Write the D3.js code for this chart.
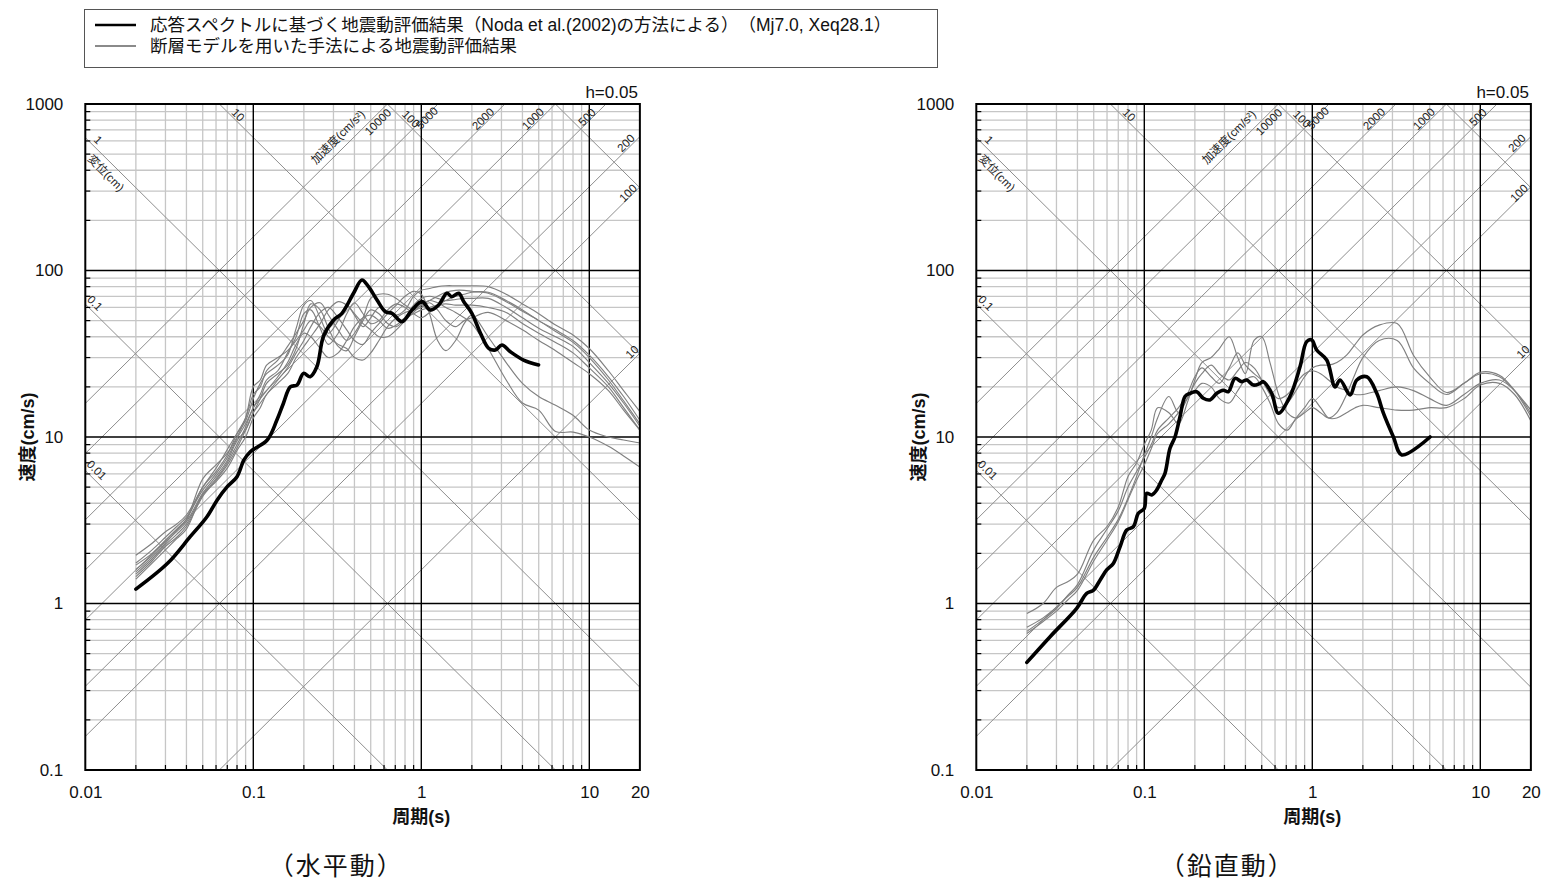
<!DOCTYPE html>
<html><head><meta charset="utf-8">
<script src="https://cdn.jsdelivr.net/npm/d3@7"></script>
<style>body{margin:0;background:#fff}svg{display:block}text{text-spacing-trim:space-all}</style>
</head><body>
<svg id="chart" width="1543" height="884"></svg>
<script>
// ---------------- data ----------------
const periodTicks = [0.01, 0.1, 1, 10, 20];
const periodTickLabels = ["0.01", "0.1", "1", "10", "20"];
const velTicks = [0.1, 1, 10, 100, 1000];
const velTickLabels = ["0.1", "1", "10", "100", "1000"];
const dispLines = [0.01, 0.1, 1, 10, 100, 1000];          // cm
const accLines = [10, 100, 200, 500, 1000, 2000, 5000, 10000]; // cm/s2
const gridLabelText = ["1", "変位(cm)", "10", "100", "0.1", "0.01", "加速度(cm/s²)", "10000", "5000", "2000", "1000", "500", "200", "100", "10"];
const gridLabelKind = ["d", "d", "d", "d", "d", "d", "a", "a", "a", "a", "a", "a", "a", "a", "a"];
const gridLabelT = [0.0119, 0.01328, 0.0811, 0.868, 0.01142, 0.01169, 0.319, 0.552, 1.081, 2.33, 4.62, 9.69, 16.5, 17.0, 17.96];
const gridLabelV = [608, 385, 859, 813, 63.8, 6.34, 634, 780, 824, 813, 813, 835, 583, 292, 32.4];

const legendTexts = ["応答スペクトルに基づく地震動評価結果（Noda et al.(2002)の方法による）（Mj7.0, Xeq28.1）", "断層モデルを用いた手法による地震動評価結果"];
const panelCaptions = ["（水平動）", "（鉛直動）"];

// horizontal: Noda et al. (2002)
const hNodaT = [0.020,0.031,0.042,0.053,0.061,0.070,0.080,0.088,0.096,0.121,0.138,0.151,0.166,0.182,0.199,0.218,0.239,0.262,0.301,0.337,0.395,0.443,0.485,0.545,0.611,0.670,0.767,0.881,1.01,1.13,1.27,1.42,1.52,1.67,1.79,2.00,2.25,2.52,2.76,3.02,3.39,4.06,4.99];
const hNodaV = [1.22,1.75,2.51,3.32,4.19,5.03,5.78,7.28,8.16,9.59,12.6,15.9,20.0,20.5,24.1,23.0,26.4,40.4,50.4,55.3,73.0,87.7,80.0,66.5,56.6,55.3,49.3,57.9,65.0,57.9,62.1,73.0,69.6,73.0,65.0,55.3,42.0,34.1,33.3,35.7,32.5,29.0,27.1];

// fault model periods
const faultT = [0.02,0.025,0.03,0.035,0.04,0.05,0.06,0.07,0.08,0.09,0.1,0.11,0.12,0.14,0.16,0.18,0.2,0.22,0.25,0.28,0.32,0.36,0.4,0.45,0.5,0.56,0.63,0.71,0.8,0.9,1.0,1.12,1.25,1.4,1.6,1.8,2.0,2.5,3.2,4,5,6.3,8,10,13,16,20];
const hFault1 = [1.95,2.3,2.7,3.0,3.4, 5.0,6.5,8.4,10.5,12.5, 17,21,24,27,31, 45,62,66,52,42, 50,62,54,46,52, 60,57,54,58,70, 76,78,80,81,81, 81,81, 80,72,63,55,47, 41,34,25,19,14.2];
const hFault2 = [1.75,2.1,2.5,2.9,3.3, 4.8,6.0,7.5,9.8,12, 15,18,22,25,32, 40,55,58,45,36, 42,55,64,55,48, 50,58,63,60,55, 52,56,62,66,70, 72,74, 74,66,58,50,44, 38,31,23,17.5,12.6];
const hFault3 = [1.6,1.95,2.35,2.7,3.1, 4.6,5.8,7.2,9.5,11, 14,17,21,24,27, 34,48,63,58,45, 35,33,40,50,58, 55,48,46,52,62, 68,70,68,66,67, 68,68, 68,60,52,45,40, 35,28,21,16,11.6];
const hFault4 = [1.5,1.85,2.25,2.6,3.0, 4.5,5.6,7.0,9.0,11.5, 15,17,19,23,28, 36,42,40,34,30, 32,38,46,52,54, 50,45,47,52,55, 58,60,62,63,62, 62,62, 60,56,48,42,37, 32,26,20,15,11.0];
const hFault5 = [1.45,1.8,2.2,2.5,2.9, 4.4,5.5,6.8,8.6,11, 14,16,18,22,26, 32,38,46,56,60, 52,44,38,36,42, 48,55,62,70,75, 72,55,38,33,38, 48,54, 40,28,21,17.5,15.5, 13.5,11,10,9.6,9.2];
const hFault6 = [1.4,1.75,2.1,2.45,2.8, 4.5,5.4,6.5,8.3,10, 13,15,18,21,24, 30,35,40,48,58, 65,62,55,48,44, 40,40,44,50,56, 62,66,64,60,56, 52,48, 34,22,16,14.5,10.8, 10.7,10,8.8,7.7,6.6];
const hFault7 = [1.55,1.9,2.3,2.75,3.2, 5.6,6.8,8.0,10,13, 20,22,27,30,33, 38,44,50,46,40, 36,34,30,29,32, 38,46,52,56,58, 62,66,70,74,76, 76,75, 73,65,57,50,43, 37,30,22,16.5,12.0];
const hFault8 = [1.7,2.0,2.4,2.8,3.2, 5.0,6.2,7.8,10.5,13, 18,20,25,29,35, 42,50,60,64,54, 44,38,42,52,68, 72,72,68,62,58, 60,64,58,50,46, 50,52, 56,50,44,38,33, 28,24,19,14.5,11];

// vertical: Noda et al. (2002)
const vNodaT = [0.020,0.0275,0.0396,0.0454,0.0497,0.0545,0.0597,0.0654,0.0717,0.0786,0.086,0.0921,0.100,0.1033,0.1107,0.1186,0.127,0.1328,0.1422,0.1523,0.163,0.1747,0.187,0.205,0.2245,0.246,0.270,0.295,0.316,0.347,0.380,0.407,0.446,0.489,0.511,0.573,0.628,0.736,0.845,0.926,0.991,1.062,1.219,1.366,1.463,1.68,1.84,2.11,2.42,2.65,3.04,3.41,5.02];
const vNodaV = [0.443,0.632,0.936,1.15,1.20,1.38,1.59,1.74,2.19,2.76,2.89,3.48,3.73,4.59,4.49,4.81,5.52,6.05,8.55,10.0,13.2,17.5,18.3,18.7,17.1,16.7,18.3,19.1,18.7,22.5,21.5,22.0,20.5,21.0,21.5,18.3,13.9,17.5,26.4,37.4,38.3,33.3,29.0,20.0,22.0,17.9,22.0,23.0,18.3,13.9,10.0,7.80,10.0];

const vFault1 = [0.87,1.0,1.25,1.35,1.5, 2.4,2.9,3.8,5.8,7.0, 9.0,11,15,14,12, 16,22,28,30,34, 40,30,24,38,40, 28,18,14,13,14, 15,14,13,14,18, 24,30, 38,38,26,21,18, 21,24,23,19,14.5];
const vFault2 = [0.72,0.82,0.95,1.1,1.25, 1.9,2.5,3.2,4.3,5.8, 7.8,10,13,17.5,14, 17,21,24,27,24, 22,25,28,26,22, 18,15,16,19,23, 26,27,27,28,31, 36,41, 47,48,31,23,18.5, 21,24.5,23.5,19,13.3];
const vFault3 = [0.66,0.78,0.9,1.05,1.2, 1.8,2.4,3.1,4.2,5.5, 6.8,8.5,10.5,12,14, 17,19,21,20,17, 16,19,22,23,20, 16,12,11,13,15, 17,15,13,13,14, 15,15.5, 15,14.5,14.5,15,15, 17,20.5,21,18,12.5];
const vFault4 = [0.68,0.8,0.93,1.12,1.3, 2.1,2.8,3.6,5.0,6.2, 7.5,9,11,13,15, 18,23,26,23,21, 26,32,27,24,22, 19,17,18,21,24, 25,24,22,20,19, 18,18, 19,20,19,17,15.5, 18,21,22,19,13.8];

// ---------------- drawing ----------------
const svg = d3.select("#chart");
const FONT = "'Liberation Sans', Arial, 'Noto Sans CJK JP', sans-serif";
const JFONT = "'Liberation Sans', Arial, 'Noto Sans CJK JP', sans-serif";
const CJK = "'Noto Sans CJK JP', sans-serif";

// legend
const leg = svg.append("g");
leg.append("rect").attr("x", 84.5).attr("y", 9.5).attr("width", 853).attr("height", 58)
  .attr("fill", "#fff").attr("stroke", "#555").attr("stroke-width", 1);
leg.append("line").attr("x1", 95).attr("x2", 136).attr("y1", 25).attr("y2", 25).attr("stroke", "#000").attr("stroke-width", 2.5);
leg.append("line").attr("x1", 95).attr("x2", 136).attr("y1", 46).attr("y2", 46).attr("stroke", "#8a8a8a").attr("stroke-width", 2);
legendTexts.forEach((t, i) => {
  leg.append("text").attr("x", 150).attr("y", 25 + i * 21).attr("dy", "0.35em")
    .attr("font-family", JFONT).attr("font-size", 17.5).attr("fill", "#111").text(t);
});

function drawPanel(x0, idx, nodaT, nodaV, faults) {
  const x = d3.scaleLog().domain([0.01, 20]).range([x0, x0 + 168 * Math.log10(2000)]);
  const y = d3.scaleLog().domain([0.1, 1000]).range([770, 104]);
  const [X0, X1] = x.range();
  const [Y1, Y0] = y.range();
  const g = svg.append("g");
  const clipId = "clip" + idx;
  g.append("clipPath").attr("id", clipId).append("rect")
    .attr("x", X0).attr("y", Y0).attr("width", X1 - X0).attr("height", Y1 - Y0);

  const minorX = [], majorX = [0.1, 1, 10];
  [0.01, 0.1, 1, 10].forEach(d => { for (let k = 2; k <= 9; k++) { const v = d * k; if (v < 20) minorX.push(v); } });
  const minorY = [], majorY = [1, 10, 100];
  [0.1, 1, 10, 100].forEach(d => { for (let k = 2; k <= 9; k++) minorY.push(d * k); });

  // minor grid
  g.append("g").selectAll("line").data(minorX).join("line")
    .attr("x1", d => x(d)).attr("x2", d => x(d)).attr("y1", Y0).attr("y2", Y1)
    .attr("stroke", "#c6c6c6").attr("stroke-width", 1.3);
  g.append("g").selectAll("line").data(minorY).join("line")
    .attr("y1", d => y(d)).attr("y2", d => y(d)).attr("x1", X0).attr("x2", X1)
    .attr("stroke", "#c6c6c6").attr("stroke-width", 1.3);

  // tripartite diagonal lines
  const diag = g.append("g").attr("clip-path", `url(#${clipId})`);
  const line = d3.line().x(d => x(d[0])).y(d => y(d[1]));
  const ends = [0.005, 40];
  dispLines.forEach(D => {
    diag.append("path").attr("d", line(ends.map(T => [T, 2 * Math.PI * D / T])))
      .attr("fill", "none").attr("stroke", "#8e8e8e").attr("stroke-width", 1);
  });
  accLines.forEach(A => {
    diag.append("path").attr("d", line(ends.map(T => [T, A * T / (2 * Math.PI)])))
      .attr("fill", "none").attr("stroke", "#8e8e8e").attr("stroke-width", 1);
  });

  // major grid
  g.append("g").selectAll("line").data(majorX).join("line")
    .attr("x1", d => x(d)).attr("x2", d => x(d)).attr("y1", Y0).attr("y2", Y1)
    .attr("stroke", "#000").attr("stroke-width", 1.4);
  g.append("g").selectAll("line").data(majorY).join("line")
    .attr("y1", d => y(d)).attr("y2", d => y(d)).attr("x1", X0).attr("x2", X1)
    .attr("stroke", "#000").attr("stroke-width", 1.4);

  // inward minor ticks (left & bottom)
  g.append("g").selectAll("line").data(minorY).join("line")
    .attr("y1", d => y(d)).attr("y2", d => y(d)).attr("x1", X0).attr("x2", X0 + 5)
    .attr("stroke", "#000").attr("stroke-width", 1.2);
  g.append("g").selectAll("line").data(minorX).join("line")
    .attr("x1", d => x(d)).attr("x2", d => x(d)).attr("y1", Y1).attr("y2", Y1 - 5)
    .attr("stroke", "#000").attr("stroke-width", 1.2);

  // grid labels
  const gl = g.append("g");
  gridLabelText.forEach((t, i) => {
    const px = x(gridLabelT[i]), py = y(gridLabelV[i]);
    const rot = gridLabelKind[i] === "d" ? 45 : -45;
    gl.append("text").attr("transform", `translate(${px},${py}) rotate(${rot})`)
      .attr("text-anchor", "middle").attr("dy", "0.35em")
      .attr("font-family", JFONT).attr("font-size", 11.5).attr("fill", "#222").text(t);
  });

  // data curves
  const curve = d3.line().x(d => x(d[0])).y(d => y(d[1])).curve(d3.curveCatmullRom.alpha(0.5));
  const dg = g.append("g").attr("clip-path", `url(#${clipId})`);
  faults.forEach(vals => {
    dg.append("path").attr("d", curve(faultT.map((T, i) => [T, vals[i]])))
      .attr("fill", "none").attr("stroke", "#808080").attr("stroke-width", 1.15);
  });
  dg.append("path").attr("d", curve(nodaT.map((T, i) => [T, nodaV[i]])))
    .attr("fill", "none").attr("stroke", "#000").attr("stroke-width", 3.6)
    .attr("stroke-linejoin", "round").attr("stroke-linecap", "round");

  // frame
  g.append("rect").attr("x", X0).attr("y", Y0).attr("width", X1 - X0).attr("height", Y1 - Y0)
    .attr("fill", "none").attr("stroke", "#000").attr("stroke-width", 2);

  // axes labels
  const xAxis = d3.axisBottom(x).tickValues(periodTicks).tickFormat((d, i) => periodTickLabels[i]).tickSize(0).tickPadding(16);
  const ax = g.append("g").attr("transform", `translate(0,${Y1})`).call(xAxis);
  ax.select(".domain").remove();
  ax.selectAll("text").attr("font-family", FONT).attr("font-size", 17).attr("fill", "#111");
  const yAxis = d3.axisLeft(y).tickValues(velTicks).tickFormat((d, i) => velTickLabels[i]).tickSize(0).tickPadding(22);
  const ay = g.append("g").attr("transform", `translate(${X0},0)`).call(yAxis);
  ay.select(".domain").remove();
  ay.selectAll("text").attr("font-family", FONT).attr("font-size", 17).attr("fill", "#111");

  g.append("text").attr("x", X1 - 2).attr("y", Y0 - 6).attr("text-anchor", "end")
    .attr("font-family", FONT).attr("font-size", 17).attr("fill", "#111").text("h=0.05");
  g.append("text").attr("transform", `translate(${X0 - 58},${(Y0 + Y1) / 2}) rotate(-90)`)
    .attr("text-anchor", "middle").attr("dy", "0.35em").attr("font-weight", "bold")
    .attr("font-family", JFONT).attr("font-size", 18).attr("fill", "#111").text("速度(cm/s)");
  g.append("text").attr("x", x(1)).attr("y", 817).attr("text-anchor", "middle").attr("dy", "0.35em")
    .attr("font-weight", "bold").attr("font-family", JFONT).attr("font-size", 18).attr("fill", "#111").text("周期(s)");
  g.append("text").attr("x", X0 + 251).attr("y", 866).attr("text-anchor", "middle").attr("dy", "0.35em")
    .attr("font-family", CJK).attr("font-size", 25).attr("letter-spacing", 2).attr("fill", "#111").text(panelCaptions[idx]);
}

drawPanel(85.3, 0, hNodaT, hNodaV, [hFault1, hFault2, hFault3, hFault4, hFault5, hFault6, hFault7, hFault8]);
drawPanel(976.3, 1, vNodaT, vNodaV, [vFault1, vFault2, vFault3, vFault4]);
</script>
</body></html>
